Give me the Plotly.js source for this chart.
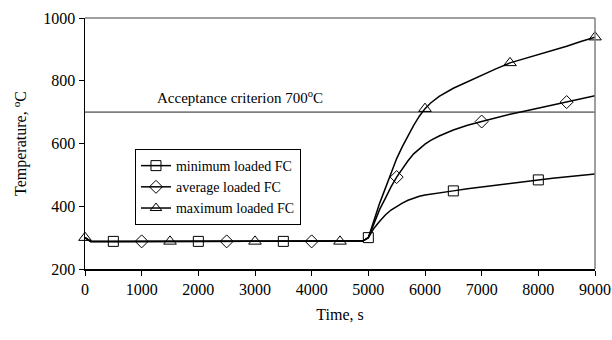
<!DOCTYPE html>
<html>
<head>
<meta charset="utf-8">
<script src="https://cdn.plot.ly/plotly-3.0.1.min.js"></script>
<style>html,body{margin:0;padding:0;background:#fff;}#chart{width:612px;height:340px;}</style>
</head>
<body>
<div id="chart"></div>
<script>
// Time axis of the curves (s)
const time = [0, 100, 500, 1000, 1500, 2000, 2500, 3000, 3500, 4000, 4500, 4900, 5000, 5100, 5200, 5300, 5400, 5500, 5600, 5700, 5800, 5900, 6000, 6100, 6250, 6500, 6750, 7000, 7250, 7500, 7750, 8000, 8250, 8500, 8750, 9000];
// Temperatures (°C)
const tempMin = [300, 288, 288, 288, 288, 288, 288, 288, 288, 288, 288, 289, 300, 330, 352, 372, 388, 400, 410, 419, 426, 432, 436, 439, 443, 449, 456, 462, 467, 472, 478, 484, 489, 494, 498, 503];
const tempAvg = [300, 288, 288, 288, 288, 288, 288, 288, 288, 288, 288, 289, 300, 345, 390, 425, 462, 493, 520, 545, 567, 584, 598, 610, 624, 643, 658, 670, 682, 693, 703, 713, 722, 732, 742, 752];
const tempMax = [300, 288, 288, 288, 288, 288, 288, 288, 288, 288, 288, 289, 300, 355, 410, 457, 505, 552, 590, 625, 658, 687, 711, 729, 750, 776, 797, 818, 838, 857, 870, 882, 896, 910, 925, 939];
// Marker positions (s)
const markMinT = [500, 2000, 3500, 5000, 6500, 8000];
const markAvgT = [1000, 2500, 4000, 5500, 7000, 8500];
const markMaxT = [0, 1500, 3000, 4500, 6000, 7500, 9000];
const seriesNames = ['minimum loaded FC', 'average loaded FC', 'maximum loaded FC'];
const criterion = 700;
const criterionLabel = 'Acceptance criterion 700<sup>o</sup>C';
const xTicks = [0, 1000, 2000, 3000, 4000, 5000, 6000, 7000, 8000, 9000];
const yTicks = [200, 400, 600, 800, 1000];

function pick(ts) { return ts.map(t => time.indexOf(t)); }

const series = [
  {name: seriesNames[0], y: tempMin, marks: markMinT, symbol: 'square-open'},
  {name: seriesNames[1], y: tempAvg, marks: markAvgT, symbol: 'diamond-open'},
  {name: seriesNames[2], y: tempMax, marks: markMaxT, symbol: 'triangle-up-open'}
];

const FONT = 'Liberation Serif, Times New Roman, serif';
const traces = [];
// criterion line
traces.push({x: [xTicks[0], xTicks[xTicks.length-1]], y: [criterion, criterion], mode: 'lines',
  line: {color: '#7f7f7f', width: 1.6}, showlegend: false, hoverinfo: 'skip'});
series.forEach(s => {
  traces.push({x: time, y: s.y, mode: 'lines', line: {color: '#000', width: 1.5}, showlegend: false});
});
series.forEach(s => {
  const idx = pick(s.marks);
  traces.push({x: idx.map(i => time[i]), y: idx.map(i => s.y[i]), mode: 'markers',
    marker: {symbol: s.symbol, size: s.symbol === 'triangle-up-open' ? 11 : 10, color: '#000', line: {width: 1, color: '#000'}},
    showlegend: false, cliponaxis: false});
});
series.forEach(s => {
  traces.push({x: [null], y: [null], name: s.name, mode: 'lines+markers',
    line: {color: '#000', width: 1.5},
    marker: {symbol: s.symbol, size: 10, color: '#000', line: {width: 1, color: '#000'}}});
});

const layout = {
  width: 612, height: 340,
  margin: {l: 85, r: 17, t: 18, b: 71},
  paper_bgcolor: '#fff', plot_bgcolor: '#fff',
  font: {family: FONT, color: '#000', size: 16},
  showlegend: true,
  legend: {x: 0.098, y: 0.478, xanchor: 'left', yanchor: 'top', bgcolor: '#fff',
    bordercolor: '#000', borderwidth: 1, font: {family: FONT, size: 14, color: '#000'},
    itemwidth: 30, tracegroupgap: 0},
  xaxis: {range: [0, 9000], tickvals: xTicks, ticktext: xTicks.map(String), ticks: 'outside', ticklen: 5,
    tickcolor: '#000', showline: true, linecolor: '#000', linewidth: 1.5, showgrid: false, zeroline: false,
    tickfont: {family: FONT, size: 16}, title: {text: 'Time, s', font: {family: FONT, size: 16}, standoff: 12}},
  yaxis: {range: [200, 1000], tickvals: yTicks, ticktext: yTicks.map(String), ticks: 'outside', ticklen: 5,
    tickcolor: '#000', showline: true, linecolor: '#000', linewidth: 1.5, showgrid: false, zeroline: false,
    tickfont: {family: FONT, size: 16}, title: {text: 'Temperature, <sup>o</sup>C', font: {family: FONT, size: 16}, standoff: 12}},
  shapes: [
    {type: 'line', xref: 'paper', yref: 'paper', x0: 0, x1: 1, y0: 1, y1: 1, line: {color: '#7f7f7f', width: 1.5}},
    {type: 'line', xref: 'paper', yref: 'paper', x0: 1, x1: 1, y0: 0, y1: 1, line: {color: '#7f7f7f', width: 1.5}}
  ],
  annotations: [
    {x: 1230, y: criterion, xref: 'x', yref: 'y', xanchor: 'left', yanchor: 'bottom', yshift: 4,
     text: criterionLabel, showarrow: false, font: {family: FONT, size: 15, color: '#000'}}
  ]
};

Plotly.newPlot('chart', traces, layout, {displayModeBar: false, staticPlot: true});
</script>
</body>
</html>
